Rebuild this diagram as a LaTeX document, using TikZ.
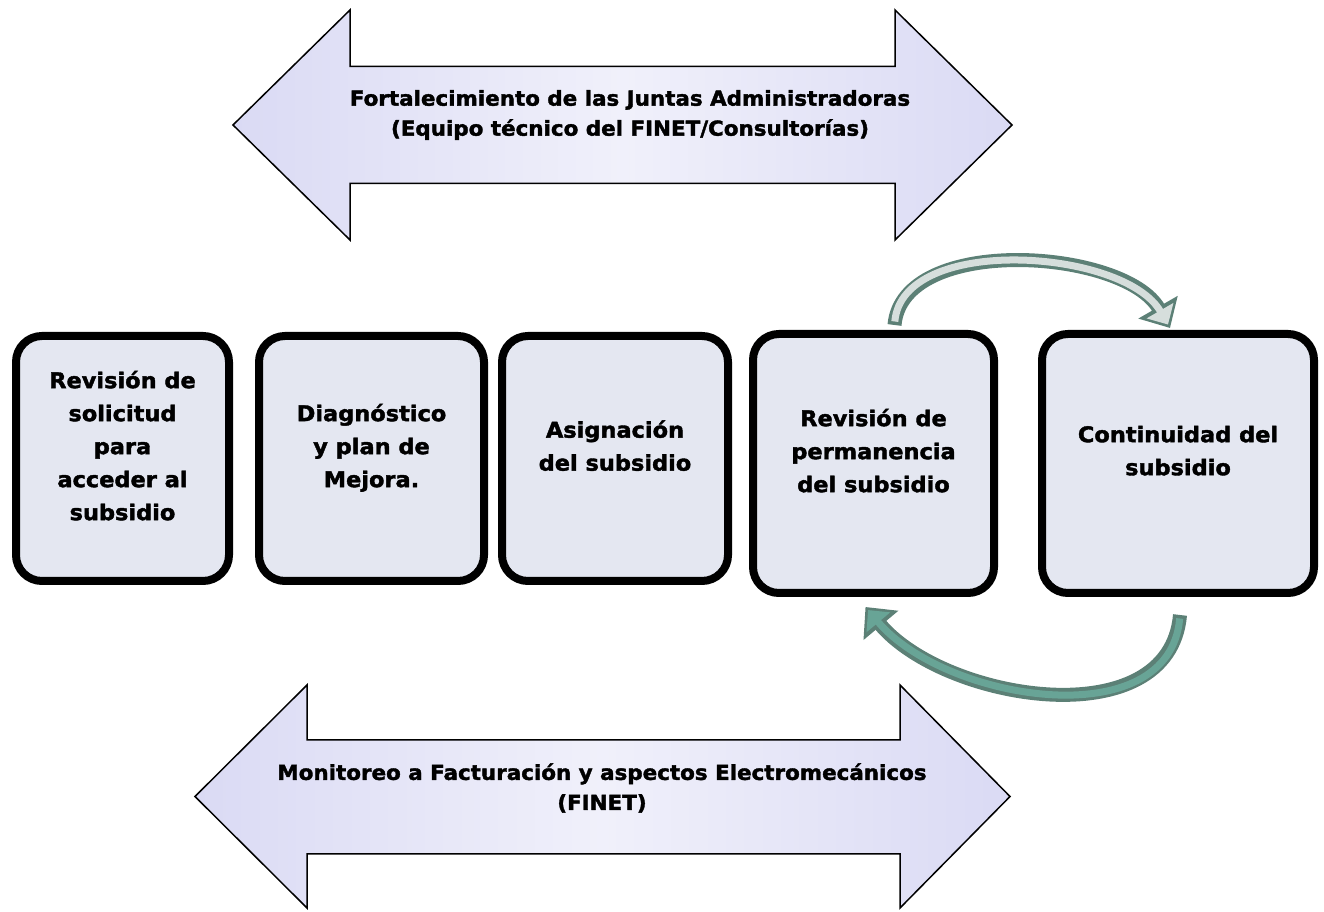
\documentclass[tikz,border=0pt]{standalone}
\usepackage{fontspec}
\setsansfont{DejaVu Sans}[FakeStretch=1.04, BoldFeatures={FakeBold=1.8}]
\usepackage{tikz}
\usetikzlibrary{arrows.meta,calc,positioning}
\definecolor{bandfill}{RGB}{218,218,244}
\definecolor{stagefill}{RGB}{228,231,241}
\definecolor{turnline}{RGB}{92,128,118}
\definecolor{turnlight}{RGB}{214,222,220}
\definecolor{turnteal}{RGB}{104,164,150}
\tikzset{
	stage/.style={draw, line width=8pt, rounded corners=26pt, fill=stagefill,
		align=center, text depth=26pt, minimum height=245pt,
		font=\sffamily\bfseries\fontsize{21.6}{33}\selectfont},
	band/.style={draw, line width=1.5pt, line join=miter,
		left color=bandfill, right color=bandfill, middle color=bandfill!40!white},
	band text/.style={align=center, font=\sffamily\bfseries\fontsize{20.6}{30}\selectfont},
	turn rim/.style={line width=14pt, draw=turnline, -{Triangle[width=44pt,length=24pt]}},
	turn core/.style={line width=7pt, draw=#1, shorten <=3.5pt, shorten >=4pt,
		-{Triangle[width=30pt,length=16pt]}}
}
\begin{document}
\begin{tikzpicture}[x=1pt, y=1pt]
   \useasboundingbox (0,0) rectangle (1324,912);
   \draw[band] (233,787) -- (350,902) -- (350,845.5) -- (895,845.5) -- (895,902) -- (1012,787)
      -- (895,672) -- (895,728.5) -- (350,728.5) -- (350,672) -- cycle;
   \node[band text] (fort) at (630,797) {Fortalecimiento de las Juntas Administradoras\\(Equipo técnico del FINET/Consultorías)};
   \draw[band] (195,115.5) -- (307,227) -- (307,172) -- (900,172) -- (900,227) -- (1010,115.5)
      -- (900,4) -- (900,58) -- (307,58) -- (307,4) -- cycle;
   \node[band text] (moni) at (602,124) {Monitoreo a Facturación y aspectos Electromecánicos\\(FINET)};
   \node[stage, minimum width=213pt] (S1) at (122.5,453.5) {Revisión de\\solicitud\\para\\acceder al\\subsidio};
   \node[stage, minimum width=225pt, right=22pt of S1] (S2) {Diagnóstico\\y plan de\\Mejora.};
   \node[stage, minimum width=226pt, right=10pt of S2] (S3) {Asignación\\del subsidio};
   \node[stage, minimum width=241pt, minimum height=259pt, right=17pt of S3, yshift=-5pt] (S4) {Revisión de\\permanencia\\del subsidio};
   \node[stage, minimum width=272pt, minimum height=259pt, right=40pt of S4] (S5) {Continuidad del\\subsidio};
   \coordinate (up1) at ([xshift=21pt,yshift=5pt]S4.north);
   \coordinate (up2) at ([xshift=-8pt,yshift=2pt]S5.north);
   \coordinate (dn1) at ([xshift=2pt,yshift=-18pt]S5.south);
   \coordinate (dn2) at ([xshift=-8pt,yshift=-10pt]S4.south);
   \draw[turn rim] (up1) to[out=85,in=120,looseness=.85] (up2);
   \draw[turn core=turnlight] (up1) to[out=85,in=120,looseness=.85] (up2);
   \draw[turn rim] (dn1) to[out=-95,in=-50] (dn2);
   \draw[turn core=turnteal] (dn1) to[out=-95,in=-50] (dn2);
\end{tikzpicture}
\end{document}
